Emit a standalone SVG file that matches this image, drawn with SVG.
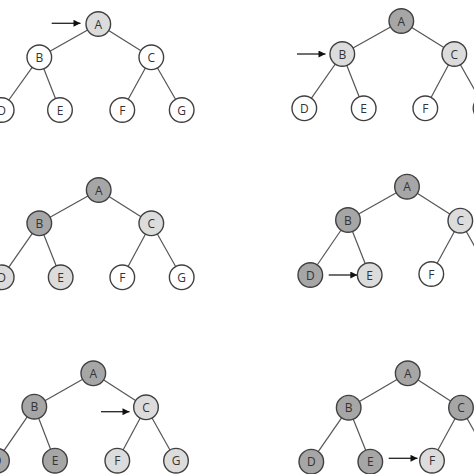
<svg xmlns="http://www.w3.org/2000/svg" width="474" height="474" viewBox="0 0 474 474">
<defs>
<marker id="ah" viewBox="0 0 10 10" refX="10" refY="5" markerWidth="8" markerHeight="7" markerUnits="userSpaceOnUse" orient="auto">
<path d="M0,0 L10,5 L0,10 z" fill="#111"/>
</marker>
</defs>
<style>
.e{stroke:#555;stroke-width:1.2;fill:none}
.ar{stroke:#222;stroke-width:1.3;fill:none;marker-end:url(#ah)}
circle{stroke:#404040;stroke-width:1.4}
.w{fill:#fff}.l{fill:#dcdcdc}.d{fill:#a6a6a6}
text{font-family:"Open Sans","Liberation Sans",sans-serif;font-size:12px;fill:#333;text-anchor:middle;dominant-baseline:central}
</style>
<rect width="474" height="474" fill="#fff"/>
<g id="connectors">
<!-- panel 1 -->
<line class="e" x1="98.3" y1="24" x2="39.3" y2="57.3"/><line class="e" x1="98.3" y1="24" x2="151.3" y2="57.3"/>
<line class="e" x1="39.3" y1="57.3" x2="1.7" y2="110"/><line class="e" x1="39.3" y1="57.3" x2="60" y2="110"/>
<line class="e" x1="151.3" y1="57.3" x2="122.3" y2="110"/><line class="e" x1="151.3" y1="57.3" x2="181.7" y2="110"/>
<line class="ar" x1="51.7" y1="23.3" x2="80.5" y2="23.3"/>
<!-- panel 2 -->
<line class="e" x1="401.3" y1="21" x2="342.3" y2="54"/><line class="e" x1="401.3" y1="21" x2="454.3" y2="54"/>
<line class="e" x1="342.3" y1="54" x2="304.3" y2="108.3"/><line class="e" x1="342.3" y1="54" x2="363.7" y2="108.3"/>
<line class="e" x1="454.3" y1="54" x2="425.3" y2="108.3"/><line class="e" x1="454.3" y1="54" x2="485" y2="108.3"/>
<line class="ar" x1="297" y1="54" x2="325.5" y2="54"/>
<!-- panel 3 -->
<line class="e" x1="98.7" y1="190" x2="39.3" y2="223.3"/><line class="e" x1="98.7" y1="190" x2="151.3" y2="223.3"/>
<line class="e" x1="39.3" y1="223.3" x2="1.7" y2="277.3"/><line class="e" x1="39.3" y1="223.3" x2="60.7" y2="277.3"/>
<line class="e" x1="151.3" y1="223.3" x2="122.3" y2="277.3"/><line class="e" x1="151.3" y1="223.3" x2="181.7" y2="277.3"/>
<!-- panel 4 -->
<line class="e" x1="407" y1="186.7" x2="348" y2="220"/><line class="e" x1="407" y1="186.7" x2="460.3" y2="220.7"/>
<line class="e" x1="348" y1="220" x2="310.3" y2="275"/><line class="e" x1="348" y1="220" x2="369.7" y2="275"/>
<line class="e" x1="460.3" y1="220.7" x2="431.3" y2="274"/><line class="e" x1="460.3" y1="220.7" x2="490" y2="274"/>
<line class="ar" x1="328.7" y1="275" x2="357.3" y2="275"/>
<!-- panel 5 -->
<line class="e" x1="93.3" y1="373.3" x2="34.3" y2="406.7"/><line class="e" x1="93.3" y1="373.3" x2="146" y2="407.3"/>
<line class="e" x1="34.3" y1="406.7" x2="-3" y2="460.7"/><line class="e" x1="34.3" y1="406.7" x2="55" y2="460.7"/>
<line class="e" x1="146" y1="407.3" x2="117.3" y2="460.7"/><line class="e" x1="146" y1="407.3" x2="176" y2="460.7"/>
<line class="ar" x1="101" y1="411.7" x2="129.5" y2="411.7"/>
<!-- panel 6 -->
<line class="e" x1="407.7" y1="373.3" x2="348.7" y2="407.7"/><line class="e" x1="407.7" y1="373.3" x2="461" y2="407.7"/>
<line class="e" x1="348.7" y1="407.7" x2="311.3" y2="461.7"/><line class="e" x1="348.7" y1="407.7" x2="370.3" y2="461.7"/>
<line class="e" x1="461" y1="407.7" x2="432" y2="460.7"/><line class="e" x1="461" y1="407.7" x2="491" y2="460.7"/>
<line class="ar" x1="388.7" y1="458.3" x2="417.5" y2="458.3"/>
</g>
<!-- panel 1 nodes -->
<g id="p1A"><circle class="l" cx="98.3" cy="24" r="12.3"/><text x="98.3" y="24">A</text></g>
<g id="p1B"><circle class="w" cx="39.3" cy="57.3" r="12.3"/><text x="39.3" y="57.3">B</text></g>
<g id="p1C"><circle class="w" cx="151.3" cy="57.3" r="12.3"/><text x="151.3" y="57.3">C</text></g>
<g id="p1D"><circle class="w" cx="1.7" cy="110" r="12.3"/><text x="1.7" y="110">D</text></g>
<g id="p1E"><circle class="w" cx="60" cy="110" r="12.3"/><text x="60" y="110">E</text></g>
<g id="p1F"><circle class="w" cx="122.3" cy="110" r="12.3"/><text x="122.3" y="110">F</text></g>
<g id="p1G"><circle class="w" cx="181.7" cy="110" r="12.3"/><text x="181.7" y="110">G</text></g>
<!-- panel 2 nodes -->
<g id="p2A"><circle class="d" cx="401.3" cy="21" r="12.3"/><text x="401.3" y="21">A</text></g>
<g id="p2B"><circle class="l" cx="342.3" cy="54" r="12.3"/><text x="342.3" y="54">B</text></g>
<g id="p2C"><circle class="l" cx="454.3" cy="54" r="12.3"/><text x="454.3" y="54">C</text></g>
<g id="p2D"><circle class="w" cx="304.3" cy="108.3" r="12.3"/><text x="304.3" y="108.3">D</text></g>
<g id="p2E"><circle class="w" cx="363.7" cy="108.3" r="12.3"/><text x="363.7" y="108.3">E</text></g>
<g id="p2F"><circle class="w" cx="425.3" cy="108.3" r="12.3"/><text x="425.3" y="108.3">F</text></g>
<g id="p2G"><circle class="w" cx="485.5" cy="108.3" r="12.3"/><text x="485.5" y="108.3">G</text></g>
<!-- panel 3 nodes -->
<g id="p3A"><circle class="d" cx="98.7" cy="190" r="12.3"/><text x="98.7" y="190">A</text></g>
<g id="p3B"><circle class="d" cx="39.3" cy="223.3" r="12.3"/><text x="39.3" y="223.3">B</text></g>
<g id="p3C"><circle class="l" cx="151.3" cy="223.3" r="12.3"/><text x="151.3" y="223.3">C</text></g>
<g id="p3D"><circle class="l" cx="1.7" cy="277.3" r="12.3"/><text x="1.7" y="277.3">D</text></g>
<g id="p3E"><circle class="l" cx="60.7" cy="277.3" r="12.3"/><text x="60.7" y="277.3">E</text></g>
<g id="p3F"><circle class="w" cx="122.3" cy="277.3" r="12.3"/><text x="122.3" y="277.3">F</text></g>
<g id="p3G"><circle class="w" cx="181.7" cy="277.3" r="12.3"/><text x="181.7" y="277.3">G</text></g>
<!-- panel 4 nodes -->
<g id="p4A"><circle class="d" cx="407" cy="186.7" r="12.3"/><text x="407" y="186.7">A</text></g>
<g id="p4B"><circle class="d" cx="348" cy="220" r="12.3"/><text x="348" y="220">B</text></g>
<g id="p4C"><circle class="l" cx="460.3" cy="220.7" r="12.3"/><text x="460.3" y="220.7">C</text></g>
<g id="p4D"><circle class="d" cx="310.3" cy="275" r="12.3"/><text x="310.3" y="275">D</text></g>
<g id="p4E"><circle class="l" cx="369.7" cy="275" r="12.3"/><text x="369.7" y="275">E</text></g>
<g id="p4F"><circle class="w" cx="431.3" cy="274" r="12.3"/><text x="431.3" y="274">F</text></g>
<!-- panel 5 nodes -->
<g id="p5A"><circle class="d" cx="93.3" cy="373.3" r="12.3"/><text x="93.3" y="373.3">A</text></g>
<g id="p5B"><circle class="d" cx="34.3" cy="406.7" r="12.3"/><text x="34.3" y="406.7">B</text></g>
<g id="p5C"><circle class="l" cx="146" cy="407.3" r="12.3"/><text x="146" y="407.3">C</text></g>
<g id="p5D"><circle class="d" cx="-3" cy="460.7" r="12.3"/><text x="-3" y="460.7">D</text></g>
<g id="p5E"><circle class="d" cx="55" cy="460.7" r="12.3"/><text x="55" y="460.7">E</text></g>
<g id="p5F"><circle class="l" cx="117.3" cy="460.7" r="12.3"/><text x="117.3" y="460.7">F</text></g>
<g id="p5G"><circle class="l" cx="176" cy="460.7" r="12.3"/><text x="176" y="460.7">G</text></g>
<!-- panel 6 nodes -->
<g id="p6A"><circle class="d" cx="407.7" cy="373.3" r="12.3"/><text x="407.7" y="373.3">A</text></g>
<g id="p6B"><circle class="d" cx="348.7" cy="407.7" r="12.3"/><text x="348.7" y="407.7">B</text></g>
<g id="p6C"><circle class="d" cx="461" cy="407.7" r="12.3"/><text x="461" y="407.7">C</text></g>
<g id="p6D"><circle class="d" cx="311.3" cy="461.7" r="12.3"/><text x="311.3" y="461.7">D</text></g>
<g id="p6E"><circle class="d" cx="370.3" cy="461.7" r="12.3"/><text x="370.3" y="461.7">E</text></g>
<g id="p6F"><circle class="l" cx="432" cy="460.7" r="12.3"/><text x="432" y="460.7">F</text></g>
</svg>
